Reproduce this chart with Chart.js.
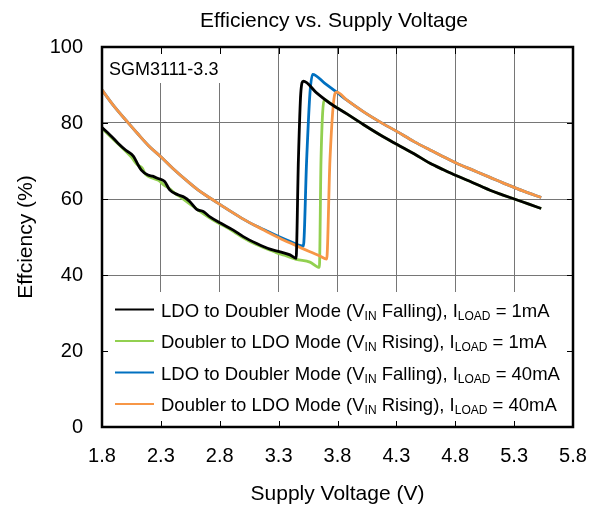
<!DOCTYPE html>
<html>
<head>
<meta charset="utf-8">
<script src="https://cdn.jsdelivr.net/npm/chart.js@4.4.0/dist/chart.umd.min.js"></script>
<style>
  body { margin: 0; background: #fff; }
</style>
</head>
<body>
<canvas id="chart" width="598" height="510"></canvas>
<script>
const FONT = '"Liberation Sans", Arial, sans-serif';

const xTicks = [1.8, 2.3, 2.8, 3.3, 3.8, 4.3, 4.8, 5.3, 5.8];
const yTicks = [0, 20, 40, 60, 80, 100];

const seriesNames = [
    'LDO to Doubler Mode (V_{IN} Falling), I_{LOAD} = 1mA',
    'Doubler to LDO Mode (V_{IN} Rising), I_{LOAD} = 1mA',
    'LDO to Doubler Mode (V_{IN} Falling), I_{LOAD} = 40mA',
    'Doubler to LDO Mode (V_{IN} Rising), I_{LOAD} = 40mA'
];
const seriesColors = ['#000000', '#92d050', '#0070c0', '#f79646'];

// LDO -> Doubler, VIN falling, 1mA
const blackV = [1.80, 1.87, 1.936, 2.00, 2.066, 2.106, 2.134, 2.19, 2.23, 2.276, 2.332, 2.375, 2.445, 2.502,
    2.547, 2.604, 2.66, 2.717, 2.81, 2.915, 3.00, 3.114, 3.227, 3.312, 3.397, 3.448, 3.468, 3.488, 3.51,
    3.62, 3.736, 3.88, 4.019, 4.16, 4.303, 4.45, 4.586, 4.70, 4.812, 4.95, 5.095, 5.20, 5.32, 5.42, 5.53];
const blackEff = [78.8, 76.8, 74.7, 72.9, 71.3, 69.0, 67.6, 66.3, 66.0, 65.4, 64.6, 62.4, 61.1, 60.4,
    59.3, 57.3, 56.7, 55.3, 53.6, 51.8, 50.1, 48.3, 46.8, 46.1, 45.3, 44.4, 70.3, 87.8, 91.0,
    88.0, 85.2, 82.4, 79.6, 76.9, 74.4, 71.9, 69.4, 67.7, 66.1, 64.3, 62.3, 61.1, 59.8, 58.7, 57.5];

// Doubler -> LDO, VIN rising, 1mA
const greenV = [1.80, 1.94, 2.05, 2.10, 2.14, 2.17, 2.22, 2.28, 2.33, 2.37, 2.42, 2.47, 2.55, 2.62, 2.70,
    2.78, 2.83, 2.92, 3.00, 3.11, 3.23, 3.28, 3.35, 3.45, 3.566, 3.646, 3.66, 3.688, 3.736, 3.88, 4.019,
    4.16, 4.303, 4.45, 4.586, 4.70, 4.812, 4.95, 5.095, 5.20, 5.32, 5.42, 5.53];
const greenEff = [78.6, 74.4, 71.0, 69.0, 68.2, 66.5, 65.6, 64.9, 63.6, 62.8, 61.5, 60.4, 58.6, 57.0, 55.3,
    53.8, 53.0, 51.4, 49.8, 48.0, 46.5, 45.9, 45.2, 44.1, 43.4, 42.0, 70.3, 86.2, 85.2, 82.4, 79.6,
    76.9, 74.4, 71.9, 69.4, 67.7, 66.1, 64.3, 62.3, 61.1, 59.8, 58.7, 57.5];

// LDO -> Doubler, VIN falling, 40mA
const blueV = [1.80, 1.90, 2.021, 2.10, 2.20, 2.304, 2.40, 2.547, 2.615, 2.70, 2.81, 2.90, 3.00, 3.10, 3.20,
    3.30, 3.40, 3.51, 3.538, 3.566, 3.589, 3.69, 3.793, 3.88, 4.019, 4.16, 4.303, 4.45, 4.586, 4.67,
    4.812, 4.95, 5.095, 5.20, 5.32, 5.42, 5.53];
const blueEff = [88.7, 84.5, 80.1, 77.3, 73.9, 71.0, 68.1, 64.1, 62.4, 60.6, 58.4, 56.6, 54.7, 53.0, 51.6,
    50.1, 48.8, 47.6, 70.3, 87.8, 92.8, 90.5, 88.1, 86.0, 83.0, 80.3, 77.8, 75.1, 72.9, 71.6,
    69.4, 67.6, 65.7, 64.3, 62.8, 61.6, 60.4];

// Doubler -> LDO, VIN rising, 40mA
const orangeV = [1.80, 1.90, 2.021, 2.10, 2.20, 2.304, 2.40, 2.547, 2.615, 2.70, 2.81, 2.90, 3.00, 3.10, 3.20,
    3.31, 3.40, 3.50, 3.566, 3.65, 3.708, 3.736, 3.779, 3.793, 3.88, 4.019, 4.16, 4.303, 4.45, 4.586,
    4.67, 4.812, 4.95, 5.095, 5.20, 5.32, 5.42, 5.53];
const orangeEff = [88.7, 84.5, 80.1, 77.3, 73.9, 71.0, 68.1, 64.1, 62.4, 60.6, 58.4, 56.6, 54.7, 53.0, 51.4,
    49.7, 48.4, 47.0, 46.1, 45.0, 44.2, 70.3, 87.8, 88.1, 86.0, 83.0, 80.3, 77.8, 75.1, 72.9,
    71.6, 69.4, 67.6, 65.7, 64.3, 62.8, 61.6, 60.4];

const seriesV = [blackV, greenV, blueV, orangeV];
const seriesEff = [blackEff, greenEff, blueEff, orangeEff];
const drawOrder = [0, 2, 3, 1]; // black on top, then orange, green, blue

function toPoints(xs, ys) {
    return xs.map((v, i) => ({ x: v, y: ys[i] }));
}

// draws "text with V_{IN} subscripts" starting at x, baseline y
function drawRichText(ctx, str, x, y, size, subSize) {
    const parts = str.split(/_\{(.*?)\}/);
    parts.forEach((p, i) => {
        const isSub = i % 2 === 1;
        ctx.font = (isSub ? subSize : size) + 'px ' + FONT;
        ctx.fillText(p, x, isSub ? y + 3 : y);
        x += ctx.measureText(p).width;
    });
}

const overlayPlugin = {
    id: 'overlay',
    afterDatasetsDraw(chart) {
        const { ctx, chartArea: a, scales: { x, y } } = chart;
        ctx.save();

        // white areas behind the part label and the legend
        ctx.fillStyle = '#fff';
        ctx.fillRect(a.left, a.top, 124, 36);
        ctx.fillRect(a.left, 292, a.right - a.left, a.bottom - 292);

        // inner tick marks
        ctx.strokeStyle = '#000';
        ctx.lineWidth = 1;
        ctx.beginPath();
        xTicks.forEach(v => {
            const px = Math.round(x.getPixelForValue(v)) + 0.5;
            ctx.moveTo(px, a.bottom); ctx.lineTo(px, a.bottom - 6);
            ctx.moveTo(px, a.top); ctx.lineTo(px, a.top + 7);
        });
        yTicks.forEach(v => {
            const py = Math.round(y.getPixelForValue(v)) + 0.5;
            ctx.moveTo(a.left, py); ctx.lineTo(a.left + 6, py);
            ctx.moveTo(a.right, py); ctx.lineTo(a.right - 6, py);
        });
        ctx.stroke();

        // frame
        ctx.lineWidth = 2.5;
        ctx.strokeRect(a.left, a.top, a.right - a.left, a.bottom - a.top);

        // part label
        ctx.fillStyle = '#000';
        ctx.textAlign = 'left';
        ctx.textBaseline = 'alphabetic';
        ctx.font = '18px ' + FONT;
        ctx.fillText('SGM3111-3.3', 109, 75);

        // legend
        seriesNames.forEach((name, i) => {
            const cy = 309.5 + i * 31.5;
            ctx.strokeStyle = seriesColors[i];
            ctx.lineWidth = 2;
            ctx.beginPath();
            ctx.moveTo(115, cy);
            ctx.lineTo(154, cy);
            ctx.stroke();
            ctx.fillStyle = '#000';
            drawRichText(ctx, name, 161, cy + 7, 18.5, 12);
        });

        // title
        ctx.textAlign = 'center';
        ctx.font = '21px ' + FONT;
        ctx.fillText('Efficiency vs. Supply Voltage', 334, 27);
        ctx.restore();
    }
};

const datasets = seriesNames.map((name, i) => ({
    label: name,
    data: toPoints(seriesV[i], seriesEff[i]),
    borderColor: seriesColors[i],
    backgroundColor: seriesColors[i],
    borderWidth: 2.8,
    pointRadius: 0,
    cubicInterpolationMode: 'monotone',
    fill: false,
    order: drawOrder[i]
}));

Chart.defaults.color = '#000';
Chart.defaults.font.family = FONT;

new Chart(document.getElementById('chart'), {
    type: 'line',
    data: { datasets },
    plugins: [overlayPlugin],
    options: {
        responsive: false,
        animation: false,
        layout: { padding: { top: 47, right: 25, left: 0, bottom: 0 } },
        plugins: {
            legend: { display: false },
            tooltip: { enabled: false }
        },
        scales: {
            x: {
                type: 'linear',
                min: 1.8,
                max: 5.8,
                afterBuildTicks: s => { s.ticks = xTicks.map(v => ({ value: v })); },
                afterFit: s => {
                    s.height = 83;
                    s.paddingLeft = 0;
                    s.paddingRight = 0;
                },
                grid: { color: '#767676', lineWidth: 1, drawTicks: false },
                border: { display: false },
                ticks: {
                    padding: 17,
                    font: { size: 20 },
                    callback: v => v.toFixed(1)
                },
                title: {
                    display: true,
                    text: 'Supply Voltage (V)',
                    font: { size: 21 },
                    padding: { top: 0, bottom: 3 }
                }
            },
            y: {
                min: 0,
                max: 100,
                afterBuildTicks: s => { s.ticks = yTicks.map(v => ({ value: v })); },
                afterFit: s => {
                    s.width = 102;
                    s.paddingTop = 0;
                    s.paddingBottom = 0;
                },
                grid: { color: '#767676', lineWidth: 1, drawTicks: false },
                border: { display: false },
                ticks: {
                    padding: 19,
                    font: { size: 20 }
                },
                title: {
                    display: true,
                    text: 'Effciency (%)',
                    font: { size: 21 },
                    padding: { top: 14, bottom: 0 }
                }
            }
        }
    }
});
</script>
</body>
</html>
